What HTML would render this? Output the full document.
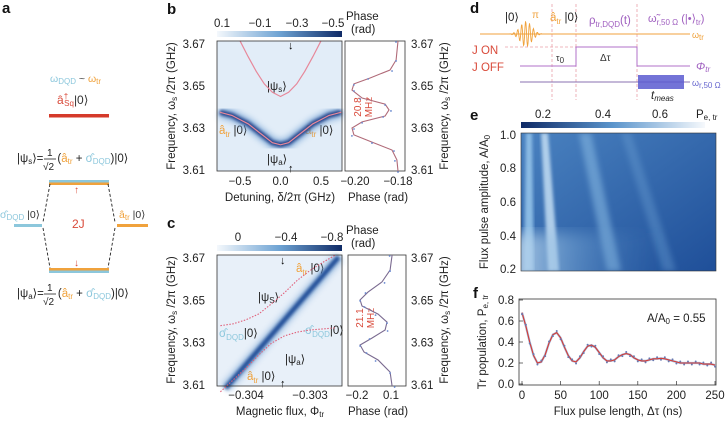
<!DOCTYPE html>
<html><head><meta charset="utf-8"><style>
body{margin:0;background:#fff;width:726px;height:421px;overflow:hidden}
svg{font-family:"Liberation Sans",sans-serif;display:block}
.t{font-size:11.5px;fill:#222}
.s{font-size:8px}
.b{font-weight:bold;font-size:15px;fill:#111}
</style></head><body>
<svg id="fig" width="726" height="421" viewBox="0 0 726 421">
<defs>
<linearGradient id="cbB" x1="0" x2="1"><stop offset="0" stop-color="#f4f8fc"/><stop offset="0.5" stop-color="#6ea3d3"/><stop offset="1" stop-color="#0f2a66"/></linearGradient>
<linearGradient id="cbE" x1="0" x2="1"><stop offset="0" stop-color="#0f2a66"/><stop offset="0.5" stop-color="#5b95cc"/><stop offset="1" stop-color="#f6f9fc"/></linearGradient>
<linearGradient id="eBg" x1="0" y1="0" x2="1" y2="1"><stop offset="0" stop-color="#4a82c0"/><stop offset="1" stop-color="#1f4f99"/></linearGradient>
<linearGradient id="eBot" x1="0" y1="0" x2="1" y2="0"><stop offset="0" stop-color="#d2e4f3" stop-opacity="0.9"/><stop offset="0.3" stop-color="#8ab8e0" stop-opacity="0.45"/><stop offset="0.7" stop-color="#3d78bb" stop-opacity="0"/></linearGradient>
<filter id="bl"><feGaussianBlur stdDeviation="1.6"/></filter>
<filter id="bl2"><feGaussianBlur stdDeviation="3"/></filter>
<filter id="bl3"><feGaussianBlur stdDeviation="7"/></filter>
</defs>

<!-- Panel a -->
<g>
<text class="b" x="2" y="13">a</text>
<text x="50" y="82" style="font-size:10.5px"><tspan fill="#8cc7dc">ω</tspan><tspan fill="#8cc7dc" class="s" dy="2">DQD</tspan><tspan fill="#444" dy="-2"> ~ </tspan><tspan fill="#f0a23c">ω</tspan><tspan fill="#f0a23c" class="s" dy="2">tr</tspan></text>
<text x="57" y="104" style="font-size:12px"><tspan fill="#d94a3a">â</tspan><tspan fill="#d94a3a" class="s" dy="-5">†</tspan><tspan fill="#d94a3a" class="s" dy="7" dx="-4">Sq</tspan><tspan fill="#333" dy="-2">|0⟩</tspan></text>
<rect x="49" y="114" width="60" height="3.5" fill="#d53a2a"/>
<text x="17" y="162" style="font-size:11.5px" fill="#222">|ψ<tspan class="s" dy="2">s</tspan><tspan dy="-2">⟩=</tspan><tspan dx="14">(</tspan><tspan fill="#f0a23c">â</tspan><tspan fill="#f0a23c" class="s" dy="2">tr</tspan><tspan dy="-2"> + </tspan><tspan fill="#8cc7dc">σ̂</tspan><tspan fill="#8cc7dc" class="s" dy="2">DQD</tspan><tspan dy="-2">)|0⟩</tspan></text>
<text x="47" y="156" style="font-size:10px" fill="#222">1</text><line x1="44" y1="159" x2="56" y2="159" stroke="#222" stroke-width="0.8"/><text x="43" y="170" style="font-size:10px" fill="#222">√2</text>
<rect x="49" y="180" width="60" height="2.5" fill="#8cc7dc"/>
<rect x="49" y="182.5" width="60" height="2.5" fill="#f0a23c"/>
<text x="74" y="193" fill="#d94a3a" style="font-size:10px">↑</text>
<path d="M50,184 L43,222 M108,184 L115,222 M43,228 L50,268 M115,228 L108,268" stroke="#222" stroke-dasharray="3,2" fill="none" stroke-width="0.9"/>
<rect x="14" y="224" width="28" height="3" fill="#8cc7dc"/>
<rect x="117" y="224" width="31" height="3" fill="#f0a23c"/>
<text x="0" y="218" style="font-size:10.5px"><tspan fill="#8cc7dc">σ̂</tspan><tspan fill="#8cc7dc" class="s" dy="2">DQD</tspan><tspan fill="#333" dy="-2"> |0⟩</tspan></text>
<text x="119" y="218" style="font-size:10.5px"><tspan fill="#f0a23c">â</tspan><tspan fill="#f0a23c" class="s" dy="2">tr</tspan><tspan fill="#333" dy="-2"> |0⟩</tspan></text>
<text x="72" y="228" fill="#d94a3a" style="font-size:12px">2J</text>
<text x="74" y="266" fill="#d94a3a" style="font-size:10px">↓</text>
<rect x="49" y="268" width="60" height="2.5" fill="#f0a23c"/>
<rect x="49" y="270.5" width="60" height="2.5" fill="#8cc7dc"/>
<text x="17" y="297" style="font-size:11.5px" fill="#222">|ψ<tspan class="s" dy="2">a</tspan><tspan dy="-2">⟩=</tspan><tspan dx="14">(</tspan><tspan fill="#f0a23c">â</tspan><tspan fill="#f0a23c" class="s" dy="2">tr</tspan><tspan dy="-2"> + </tspan><tspan fill="#8cc7dc">σ̂</tspan><tspan fill="#8cc7dc" class="s" dy="2">DQD</tspan><tspan dy="-2">)|0⟩</tspan></text>
<text x="47" y="291" style="font-size:10px" fill="#222">1</text><line x1="44" y1="294" x2="56" y2="294" stroke="#222" stroke-width="0.8"/><text x="43" y="305" style="font-size:10px" fill="#222">√2</text>
</g>

<!-- Panel b -->
<g id="pb">
<text class="b" x="167" y="14">b</text>
<rect x="217" y="31" width="125" height="6" fill="url(#cbB)"/>
<text class="t" x="222" y="27" text-anchor="middle">0.1</text><text class="t" x="260" y="27" text-anchor="middle">−0.1</text><text class="t" x="297" y="27" text-anchor="middle">−0.3</text><text class="t" x="333" y="27" text-anchor="middle">−0.5</text>
<text class="t" x="346" y="20">Phase</text><text class="t" x="351" y="33">(rad)</text>
<rect x="217" y="41" width="125" height="130" fill="#e2edf8"/>
<rect x="345" y="41" width="60" height="130" fill="#fff" stroke="#333" stroke-width="0.8"/>
<text class="t" x="175" y="106" transform="rotate(-90 175 106)" text-anchor="middle">Frequency, ω<tspan class="s" dy="2">s</tspan><tspan dy="-2"> /2π (GHz)</tspan></text>
<text class="t" x="448" y="106" transform="rotate(-90 448 106)" text-anchor="middle">Frequency, ω<tspan class="s" dy="2">s</tspan><tspan dy="-2"> /2π (GHz)</tspan></text>
<text class="t" x="280" y="201" text-anchor="middle">Detuning, δ/2π (GHz)</text>
<text class="t" x="378" y="201" text-anchor="middle">Phase (rad)</text>
<text x="288" y="49" style="font-size:11px;font-weight:bold">↓</text><text x="288" y="172" style="font-size:11px;font-weight:bold">↑</text>
<text x="267" y="90" class="t">|ψ<tspan class="s" dy="2">s</tspan><tspan dy="-2">⟩</tspan></text>
<text x="267" y="163" class="t">|ψ<tspan class="s" dy="2">a</tspan><tspan dy="-2">⟩</tspan></text>
<text x="219" y="134" class="t"><tspan fill="#f0a23c">â</tspan><tspan fill="#f0a23c" class="s" dy="3">tr</tspan><tspan dy="-3"> |0⟩</tspan></text>
<text x="305" y="134" class="t"><tspan fill="#f0a23c">â</tspan><tspan fill="#f0a23c" class="s" dy="3">tr</tspan><tspan dy="-3"> |0⟩</tspan></text>
<text x="361" y="107" transform="rotate(-90 361 107)" text-anchor="middle" fill="#d94a3a" style="font-size:10px">20.8</text>
<text x="372" y="107" transform="rotate(-90 372 107)" text-anchor="middle" fill="#d94a3a" style="font-size:10px">MHz</text>
</g>

<!-- Panel c -->
<g id="pc">
<text class="b" x="167" y="228">c</text>
<rect x="217" y="245" width="125" height="6" fill="url(#cbB)"/>
<text class="t" x="238" y="241" text-anchor="middle">0</text><text class="t" x="286" y="241" text-anchor="middle">−0.4</text><text class="t" x="332" y="241" text-anchor="middle">−0.8</text>
<text class="t" x="346" y="234">Phase</text><text class="t" x="351" y="247">(rad)</text>
<rect x="217" y="255" width="125" height="131" fill="#e8f0f9"/>
<rect x="348" y="255" width="58" height="131" fill="#fff" stroke="#333" stroke-width="0.8"/>
<text class="t" x="175" y="320" transform="rotate(-90 175 320)" text-anchor="middle">Frequency, ω<tspan class="s" dy="2">s</tspan><tspan dy="-2"> /2π (GHz)</tspan></text>
<text class="t" x="448" y="320" transform="rotate(-90 448 320)" text-anchor="middle">Frequency, ω<tspan class="s" dy="2">s</tspan><tspan dy="-2"> /2π (GHz)</tspan></text>
<text class="t" x="280" y="415" text-anchor="middle">Magnetic flux, Φ<tspan class="s" dy="2">tr</tspan></text>
<text class="t" x="378" y="415" text-anchor="middle">Phase (rad)</text>
<text x="280" y="264" style="font-size:11px;font-weight:bold">↓</text><text x="280" y="387" style="font-size:11px;font-weight:bold">↑</text>
<text x="258" y="301" class="t">|ψ<tspan class="s" dy="2">S</tspan><tspan dy="-2">⟩</tspan></text>
<text x="285" y="363" class="t">|ψ<tspan class="s" dy="2">a</tspan><tspan dy="-2">⟩</tspan></text>
<text x="296" y="272" class="t"><tspan fill="#f0a23c">â</tspan><tspan fill="#f0a23c" class="s" dy="3">tr</tspan><tspan dy="-3"> |0⟩</tspan></text>
<text x="247" y="380" class="t"><tspan fill="#f0a23c">â</tspan><tspan fill="#f0a23c" class="s" dy="3">tr</tspan><tspan dy="-3"> |0⟩</tspan></text>
<text x="219" y="337" class="t"><tspan fill="#8cc7dc">σ̂</tspan><tspan fill="#8cc7dc" class="s" dy="3">DQD</tspan><tspan dy="-3">|0⟩</tspan></text>
<text x="305" y="334" class="t"><tspan fill="#8cc7dc">σ̂</tspan><tspan fill="#8cc7dc" class="s" dy="3">DQD</tspan><tspan dy="-3">|0⟩</tspan></text>
<text x="363" y="318" transform="rotate(-90 363 318)" text-anchor="middle" fill="#d94a3a" style="font-size:10px">21.1</text>
<text x="374" y="318" transform="rotate(-90 374 318)" text-anchor="middle" fill="#d94a3a" style="font-size:10px">MHz</text>
</g>

<!-- Panel d -->
<g id="pd">
<text class="b" x="470" y="13">d</text>
<path d="M552,4 V100 M576,4 V100 M637,4 V100" stroke="#eaa0a8" stroke-dasharray="3,2" stroke-width="0.8" fill="none"/>
<path d="M505,47 H576" stroke="#eaa0a8" stroke-dasharray="3,2" stroke-width="0.8"/>
<line x1="480" y1="34" x2="690" y2="34" stroke="#f0a23c" stroke-width="0.9"/>
<path id="piPulse" fill="none" stroke="#f0a23c" stroke-width="0.9"/>
<path d="M520,66 H576 V47 H637 V66 H690" stroke="#b070c8" stroke-width="1" fill="none"/>
<line x1="520" y1="82" x2="690" y2="82" stroke="#8870b0" stroke-width="0.9"/>
<rect x="638" y="75" width="46" height="14" fill="#5a5ad0" opacity="0.85"/>
<text x="505" y="21" class="t">|0⟩</text>
<text x="532" y="18" fill="#f0a23c" style="font-size:10px">π</text>
<text x="550" y="21" class="t"><tspan fill="#f0a23c">â</tspan><tspan fill="#f0a23c" class="s" dy="3">tr</tspan><tspan dy="-3"> |0⟩</tspan></text>
<text x="589" y="24" fill="#a060c0" style="font-size:11.5px">ρ<tspan class="s" dy="3">tr,DQD</tspan><tspan dy="-3">(t)</tspan></text>
<text x="648" y="22" fill="#a060c0" style="font-size:11px">ω̃<tspan class="s" dy="3">r,50 Ω</tspan><tspan dy="-3"> (|•⟩</tspan><tspan class="s" dy="3">tr</tspan><tspan dy="-3">)</tspan></text>
<text x="692" y="38" fill="#f0a23c" style="font-size:9px">ω<tspan class="s" dy="2">tr</tspan></text>
<text x="472" y="54" style="fill:#d94a3a;font-size:11.5px">J ON</text>
<text x="472" y="71" style="fill:#d94a3a;font-size:11.5px">J OFF</text>
<text x="556" y="61" style="font-size:9px" fill="#333">τ<tspan class="s" dy="2">0</tspan></text>
<text x="600" y="61" style="font-size:10px" fill="#333">Δτ</text>
<text x="696" y="70" fill="#a060c0" style="font-size:11px;font-style:italic">Φ<tspan class="s" dy="2">tr</tspan></text>
<text x="692" y="86" fill="#6a6ad0" style="font-size:9px">ω<tspan class="s" dy="2">r,50 Ω</tspan></text>
<text x="651" y="99" class="t" style="font-style:italic">t<tspan class="s" dy="2">meas</tspan></text>
</g>

<!-- Panel e -->
<g id="pe">
<text class="b" x="470" y="120">e</text>
<rect x="521" y="122" width="184" height="6" fill="url(#cbE)"/>
<text class="t" x="543" y="118" text-anchor="middle">0.2</text><text class="t" x="603" y="118" text-anchor="middle">0.4</text><text class="t" x="660" y="118" text-anchor="middle">0.6</text>
<text class="t" x="696" y="118">P<tspan class="s" dy="2">e, tr</tspan></text>
<svg x="521" y="133" width="195" height="138" overflow="hidden">
<rect width="195" height="138" fill="url(#eBg)"/>
<path d="M5,0 L11,0 L13,138 L3,138Z" fill="#8bbbe4" filter="url(#bl)"/>
<path d="M20,0 L27,0 L38,138 L27,138Z" fill="#bcd8f0" opacity="0.9" filter="url(#bl)"/>
<path d="M58,0 L70,0 L100,138 L86,138Z" fill="#7eb0dd" opacity="0.65" filter="url(#bl2)"/>
<path d="M100,0 L110,0 L155,138 L142,138Z" fill="#6a9fd3" opacity="0.4" filter="url(#bl2)"/>
<rect x="-20" y="100" width="230" height="60" fill="url(#eBot)" filter="url(#bl3)"/>
</svg>
<rect x="521" y="133" width="195" height="138" fill="none" stroke="#333" stroke-width="0.6"/>
<text class="t" x="516" y="139" text-anchor="end">1.0</text><text class="t" x="516" y="172" text-anchor="end">0.8</text><text class="t" x="516" y="206" text-anchor="end">0.6</text><text class="t" x="516" y="240" text-anchor="end">0.4</text><text class="t" x="516" y="273" text-anchor="end">0.2</text>
<text class="t" x="488" y="202" transform="rotate(-90 488 202)" text-anchor="middle">Flux pulse amplitude, A/A<tspan class="s" dy="2">0</tspan></text>
</g>

<!-- Panel f -->
<g id="pf">
<text class="b" x="473" y="298">f</text>
<rect x="519" y="299" width="197" height="86" fill="#fff" stroke="#333" stroke-width="0.8"/>
<text class="t" x="618" y="415" text-anchor="middle">Flux pulse length, Δτ (ns)</text>
<text class="t" x="486" y="342" transform="rotate(-90 486 342)" text-anchor="middle">Tr population, P<tspan class="s" dy="2">e, tr</tspan></text>
<text class="t" x="647" y="322">A/A<tspan class="s" dy="2">0</tspan><tspan dy="-2"> = 0.55</tspan></text>
</g>
</svg>

<script>
// ---- Panel b data ----
const bDetuning=[-0.75,-0.7,-0.6,-0.5,-0.4,-0.3,-0.2,-0.1,0,0.1,0.2,0.3,0.4,0.5,0.6,0.7,0.75];
const bLower=[3.6375,3.637,3.636,3.634,3.632,3.629,3.626,3.623,3.622,3.623,3.626,3.629,3.632,3.634,3.636,3.637,3.6375];
const bUpperDet=[-0.5,-0.4,-0.3,-0.2,-0.1,0,0.1,0.2,0.3,0.4,0.5];
const bUpper=[3.6715,3.664,3.657,3.651,3.647,3.645,3.647,3.651,3.657,3.664,3.6715];
const bSideFreq=[3.6714,3.6624,3.6576,3.6538,3.6510,3.6481,3.6443,3.6414,3.6386,3.6357,3.6329,3.6300,3.6267,3.6233,3.6195,3.6148,3.6095];
const bSidePhase=[-0.180,-0.1809,-0.1837,-0.1930,-0.2005,-0.2014,-0.1967,-0.1860,-0.1842,-0.1860,-0.1967,-0.2014,-0.2005,-0.1921,-0.1828,-0.1805,-0.180];
const bXTicks=[-0.5,0.0,0.5], bXTickLabels=["−0.5","0.0","0.5"];
const freqTicks=[3.61,3.63,3.65,3.67], freqTickLabels=["3.61","3.63","3.65","3.67"];
const bPhTicks=[-0.20,-0.18], bPhTickLabels=["−0.20","−0.18"];
// ---- Panel c data ----
const cFlux=[-0.3044,-0.3042,-0.304,-0.3038,-0.3036,-0.3034,-0.3032,-0.303,-0.3028,-0.3026];
const cUpper=[3.638,3.6389,3.6408,3.6436,3.6484,3.6536,3.6594,3.6641,3.6679,3.6714];
const cLower=[3.6068,3.6124,3.618,3.6242,3.6298,3.6332,3.635,3.636,3.6365,3.637];
const cTrFlux=[-0.30432,-0.30255];
const cTrFreq=[3.6085,3.6705];
const cSideFreq=[3.6714,3.6643,3.6587,3.6539,3.6502,3.6473,3.6435,3.6397,3.6360,3.6322,3.6289,3.6256,3.6218,3.6161,3.6095];
const cSidePhase=[0.110,0.092,0.021,-0.103,-0.173,-0.156,-0.014,0.065,0.048,-0.067,-0.173,-0.138,-0.014,0.092,0.110];
const cXTicks=[-0.304,-0.303], cXTickLabels=["−0.304","−0.303"];
const cPhTicks=[-0.2,0.1], cPhTickLabels=["−0.2","0.1"];
// ---- Panel f data ----
const fTime=[0,5,10,15,20,25,30,35,40,45,50,55,60,65,70,75,80,85,90,95,100,105,110,115,120,125,130,135,140,145,150,155,160,165,170,175,180,185,190,195,200,205,210,215,220,225,230,235,240,245,250];
const fPop=[0.68,0.55,0.4,0.27,0.2,0.21,0.28,0.39,0.47,0.49,0.44,0.35,0.27,0.22,0.21,0.25,0.31,0.36,0.37,0.35,0.3,0.25,0.22,0.22,0.23,0.26,0.28,0.29,0.28,0.25,0.23,0.22,0.22,0.23,0.24,0.24,0.245,0.24,0.23,0.22,0.21,0.2,0.2,0.2,0.2,0.2,0.2,0.19,0.19,0.19,0.18];
const fXTicks=[0,50,100,150,200,250];
const fYTicks=[0,0.2,0.4,0.6,0.8], fYTickLabels=["0.0","0.2","0.4","0.6","0.8"];

const NS="http://www.w3.org/2000/svg";
function mk(parent,tag,attrs){const e=document.createElementNS(NS,tag);for(const k in attrs)e.setAttribute(k,attrs[k]);parent.appendChild(e);return e;}
function lin(d0,d1,r0,r1){return v=>r0+(v-d0)*(r1-r0)/(d1-d0);}
function pathOf(xs,ys,fx,fy){return xs.map((v,i)=>(i?'L':'M')+fx(v).toFixed(1)+','+fy(ys[i]).toFixed(1)).join(' ');}

const pb=document.getElementById('pb'),pc=document.getElementById('pc'),pf=document.getElementById('pf');
// ---- b ----
const bx=lin(-0.5,0.5,240,321), byF=lin(3.61,3.67,170,44);
const bph=lin(-0.20,-0.18,355,398);
let p=mk(pb,'path',{d:pathOf(bDetuning,bLower,bx,byF),stroke:'#6f9fd2','stroke-width':12,fill:'none',opacity:0.6,filter:'url(#bl2)'});


p=mk(pb,'path',{d:pathOf(bDetuning,bLower,bx,byF),stroke:'#1c3c86','stroke-width':5,fill:'none',filter:'url(#bl)'});


p=mk(pb,'path',{d:pathOf(bDetuning,bLower,bx,byF),stroke:'#e7889a','stroke-width':1.2,fill:'none'});


p=mk(pb,'path',{d:pathOf(bUpperDet,bUpper,bx,byF),stroke:'#e7889a','stroke-width':1.2,fill:'none'});


mk(pb,'rect',{x:217,y:41,width:125,height:130,fill:'none',stroke:'#333','stroke-width':0.8});
p=mk(pb,'path',{d:pathOf(bSidePhase,bSideFreq,bph,byF),stroke:'#b06a78','stroke-width':1.1,fill:'none'});


bSidePhase.forEach((v,i)=>{const c=mk(pb,'circle',{cx:bph(v)+((i%3)-1)*2,cy:byF(bSideFreq[i])+1,r:0.9,fill:'#6a8ad0'});

});
freqTicks.forEach((f,i)=>{mk(pb,'text',{class:'t',x:205,y:byF(f)+4,'text-anchor':'end'}).textContent=freqTickLabels[i];
mk(pb,'text',{class:'t',x:411,y:byF(f)+4}).textContent=freqTickLabels[i];});
bXTicks.forEach((v,i)=>{mk(pb,'text',{class:'t',x:bx(v),y:185,'text-anchor':'middle'}).textContent=bXTickLabels[i];});
bPhTicks.forEach((v,i)=>{mk(pb,'text',{class:'t',x:bph(v),y:185,'text-anchor':'middle'}).textContent=bPhTickLabels[i];});
// ---- c ----
const cx=lin(-0.304,-0.303,246,310), cyF=lin(3.61,3.67,385,258);
const cph=lin(-0.2,0.1,357,391);
p=mk(pc,'path',{d:pathOf(cTrFlux,cTrFreq,cx,cyF),stroke:'#7aa6d6','stroke-width':12,fill:'none',opacity:0.5,filter:'url(#bl2)'});


p=mk(pc,'path',{d:pathOf(cTrFlux,cTrFreq,cx,cyF),stroke:'#1c4c96','stroke-width':5,fill:'none',filter:'url(#bl)'});


p=mk(pc,'path',{d:pathOf(cFlux,cUpper,cx,cyF),stroke:'#e0607a','stroke-width':1.1,'stroke-dasharray':'1.5,1.5',fill:'none'});


p=mk(pc,'path',{d:pathOf(cFlux,cLower,cx,cyF),stroke:'#e0607a','stroke-width':1.1,'stroke-dasharray':'1.5,1.5',fill:'none'});


mk(pc,'rect',{x:217,y:255,width:125,height:131,fill:'none',stroke:'#333','stroke-width':0.8});
p=mk(pc,'path',{d:pathOf(cSidePhase,cSideFreq,cph,cyF),stroke:'#7a6a90','stroke-width':1.1,fill:'none'});


cSidePhase.forEach((v,i)=>{const c=mk(pc,'circle',{cx:cph(v)+((i%3)-1)*2.5,cy:cyF(cSideFreq[i])+1,r:0.9,fill:'#6a8ad0'});

});
freqTicks.forEach((f,i)=>{mk(pc,'text',{class:'t',x:205,y:cyF(f)+4,'text-anchor':'end'}).textContent=freqTickLabels[i];
mk(pc,'text',{class:'t',x:411,y:cyF(f)+4}).textContent=freqTickLabels[i];});
cXTicks.forEach((v,i)=>{mk(pc,'text',{class:'t',x:cx(v),y:399,'text-anchor':'middle'}).textContent=cXTickLabels[i];});
cPhTicks.forEach((v,i)=>{mk(pc,'text',{class:'t',x:cph(v),y:399,'text-anchor':'middle'}).textContent=cPhTickLabels[i];});
// ---- d: pi pulse ----
(function(){let d='';for(let x=505;x<=548;x+=0.5){const g=Math.exp(-Math.pow((x-526)/8,2));const y=34-13*g*Math.sin((x-505)*1.6);d+=(d?'L':'M')+x+','+y.toFixed(1);}document.getElementById('piPulse').setAttribute('d',d);})();
// ---- f ----
const fx=lin(0,250,522,715), fy=lin(0,0.8,384,300);
p=mk(pf,'path',{d:pathOf(fTime,fPop,fx,fy),stroke:'#7a9ad0','stroke-width':2.2,fill:'none',opacity:0.7});


p=mk(pf,'path',{d:pathOf(fTime,fPop,fx,fy),stroke:'#d83a30','stroke-width':1.1,fill:'none'});


fTime.forEach((t,i)=>{const c=mk(pf,'circle',{cx:fx(t),cy:fy(fPop[i])+((i%2)?-1.5:1.5),r:1,fill:'#6a7ab0'});

});
fXTicks.forEach(v=>{mk(pf,'text',{class:'t',x:fx(v),y:399,'text-anchor':'middle'}).textContent=String(v);
mk(pf,'line',{x1:fx(v),x2:fx(v),y1:385,y2:381,stroke:'#333','stroke-width':0.7});});
fYTicks.forEach((v,i)=>{mk(pf,'text',{class:'t',x:514,y:fy(v)+4,'text-anchor':'end'}).textContent=fYTickLabels[i];
mk(pf,'line',{x1:519,x2:523,y1:fy(v),y2:fy(v),stroke:'#333','stroke-width':0.7});});
</script>
</body></html>
